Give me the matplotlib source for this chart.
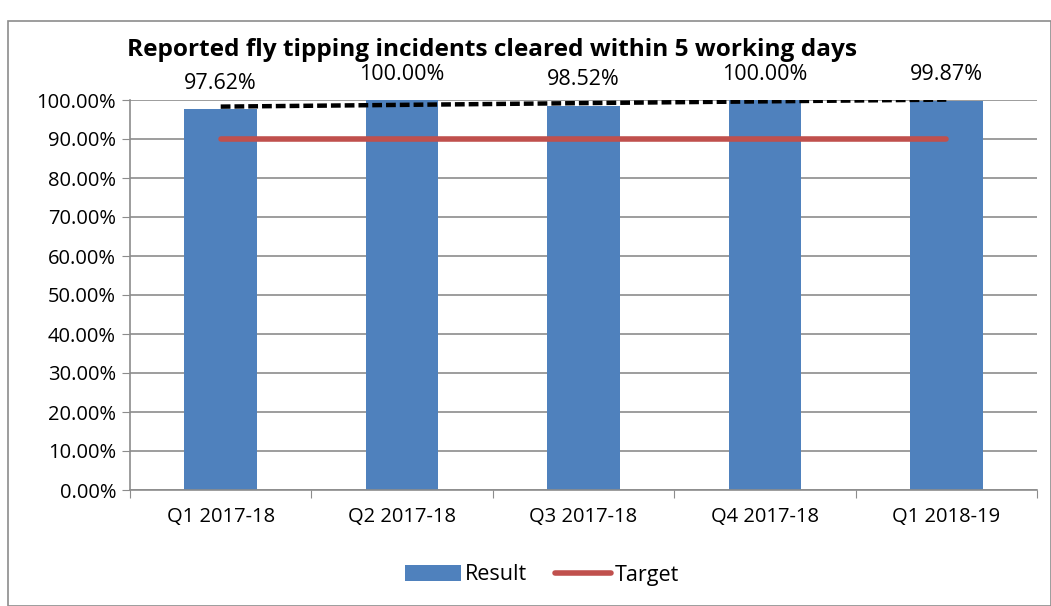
import matplotlib
matplotlib.use("Agg")
import matplotlib.pyplot as plt
import numpy as np
from matplotlib.patches import Rectangle
from matplotlib.ticker import FuncFormatter, MultipleLocator

categories = ["Q1 2017-18", "Q2 2017-18", "Q3 2017-18", "Q4 2017-18", "Q1 2018-19"]
results = [97.62, 100.00, 98.52, 100.00, 99.87]
target = [90, 90, 90, 90, 90]
title = "Reported fly tipping incidents cleared within 5 working days"

plt.rcParams['font.family'] = ['Open Sans', 'DejaVu Sans']

W, H = 1051, 606
fig = plt.figure(figsize=(W / 100, H / 100), dpi=100)
fig.patches.append(Rectangle((8 / W, 0), (W - 8) / W, (H - 21) / H, transform=fig.transFigure,
                             fill=False, edgecolor='#8c8c8c', linewidth=1.2))

ax = fig.add_axes([130 / W, 1 - 490 / H, (1037 - 130) / W, (490 - 100) / H])
x = np.arange(len(categories))
bars = ax.bar(x, results, width=0.4, color='#4F81BD', label='Result', zorder=2)
line, = ax.plot(x, target, color='#C0504D', linewidth=4, solid_capstyle='round', label='Target', zorder=3)
coef = np.polyfit(x, results, 1)
ax.plot(x, np.polyval(coef, x), color='black', linestyle=(0, (2.2, 0.9)), linewidth=3.2, zorder=4)

for xi, v in zip(x, results):
    ax.annotate(f"{v:.2f}%", (xi, v), xytext=(0, 11), textcoords='offset points',
                ha='center', va='bottom', fontsize=15.5)

ax.set_xlim(-0.5, len(categories) - 0.5)
ax.set_ylim(0, 100)
ax.yaxis.set_major_locator(MultipleLocator(10))
ax.yaxis.set_major_formatter(FuncFormatter(lambda v, p: f"{v:.2f}%"))
ax.set_xticks(np.arange(-0.5, len(categories), 1), minor=False)
ax.set_xticklabels([])
ax.set_xticks(x, minor=True)
ax.set_xticklabels(categories, minor=True)
ax.tick_params(axis='x', which='minor', length=0, labelsize=14.5, pad=12)
ax.tick_params(axis='x', which='major', length=6, color='#8c8c8c', direction='out')
ax.tick_params(axis='y', length=6, color='#8c8c8c', labelsize=14.5, pad=4)
ax.grid(axis='y', color='#8c8c8c', linewidth=1.2, zorder=0)
for s in ['top', 'right']:
    ax.spines[s].set_visible(False)
for s in ['left', 'bottom']:
    ax.spines[s].set_color('#8c8c8c')
    ax.spines[s].set_linewidth(1.2)

fig.text(492 / W, 1 - 50 / H, title, ha='center', va='center', fontsize=17.6, fontweight='bold')

fig.legend([bars, line], ['Result', 'Target'], loc='center', bbox_to_anchor=(542 / W, 1 - 575 / H), ncol=2,
           frameon=False, fontsize=15.5, handlelength=2.6, columnspacing=1.3, handletextpad=0.2)

fig.savefig("out.png", dpi=100)
